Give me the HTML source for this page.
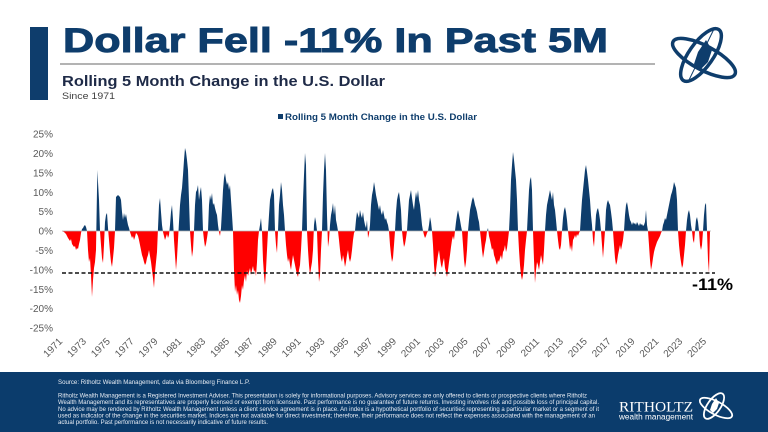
<!DOCTYPE html>
<html>
<head>
<meta charset="utf-8">
<style>
html,body{margin:0;padding:0;background:#fff;}
svg{display:block;}
text{font-family:"Liberation Sans",sans-serif;}
</style>
</head>
<body>
<svg width="768" height="432" viewBox="0 0 768 432" xmlns="http://www.w3.org/2000/svg">
<defs>
<clipPath id="up"><rect x="0" y="0" width="768" height="231"/></clipPath>
<clipPath id="dn"><rect x="0" y="231" width="768" height="200"/></clipPath>
<path id="series" d="M62,231 L64,232 66,234 68,238 70,241 71,239 72,244 74,247 75,246 76,250 77,248 78,249 79,244 80,240 81,233 82,229 83,228 84,226 85,225 86,227 87,231 88,250 89,262 90,258 91,275 92,297 93,280 94,268 95,262 96,250 97,190 97.5,170 98,182 99,200 100,231 101,245 102,258 103,263 104,245 105,222 106,215 107,213 108,228 109,240 110,252 111,262 112,267 113,258 114,248 115,231 116,197 117,196 118,195 119,196 120,197 121,200 122,212 123,220 124,213 125,218 126,214 127,220 128,225 129,228 130,232 131,235 132,238 133,236 134,240 135,237 136,233 137,234 138,236 139,240 140,245 141,250 142,255 143,258 144,262 145,265 146,263 147,258 148,255 149,250 150,256 151,262 152,270 153,278 154,288 155,272 156,262 157,252 158,228 159,205 160,198 161,212 162,225 163,232 164,236 165,240 166,237 167,234 168,238 169,235 170,225 171,212 172,205 173,220 174,240 175,255 176,270 177,258 178,240 179,222 180,205 181,195 182,188 183,175 184,160 185,148 186,152 187,160 188,170 189,200 190,231 191,245 192,257 193,250 194,231 195,205 196,192 197,190 198,185 199,200 200,192 201,187 202,200 203,231 204,240 205,247 206,244 207,238 208,231 209,205 210,195 211,200 212,193 213,205 214,203 215,208 216,212 217,215 218,225 219,232 220,236 221,228 222,210 223,190 224,178 225,173 226,180 227,185 228,182 229,190 230,185 231,200 232,215 233,231 234,270 235,292 236,285 237,295 238,290 239,300 240,303 241,296 242,285 243,290 244,280 245,275 246,282 247,270 248,276 249,272 250,268 251,275 252,270 253,266 254,272 255,270 256,276 257,262 258,240 259,231 260,225 261,218 262,231 263,260 264,275 265,285 266,270 267,250 268,231 269,215 270,200 271,195 272,190 273,188 274,195 275,231 276,245 277,253 278,231 279,205 280,195 281,182 282,190 283,205 284,215 285,231 286,245 287,255 288,262 289,258 290,265 291,270 292,262 293,255 294,260 295,265 296,270 297,274 298,277 299,270 300,265 301,250 302,231 303,200 304,175 305,153 306,165 307,231 308,250 309,265 310,275 311,268 312,262 313,250 314,225 315,217 316,222 317,231 318,260 319,282 320,275 321,250 322,231 323,195 324,170 325,153 326,170 327,215 328,247 329,240 330,225 331,215 332,210 333,203 334,215 335,205 336,220 337,225 338,231 339,240 340,250 341,258 342,262 343,255 344,260 345,267 346,262 347,255 348,250 349,258 350,262 351,258 352,250 353,240 354,233 355,231 356,220 357,212 358,215 359,218 360,210 361,215 362,218 363,212 364,220 365,225 366,228 367,220 368,238 369,234 370,225 371,205 372,195 373,190 374,182 375,188 376,195 377,200 378,205 379,210 380,205 381,212 382,215 383,210 384,215 385,220 386,218 387,222 388,225 389,231 390,245 391,255 392,262 393,258 394,245 395,231 396,212 397,200 398,195 399,192 400,200 401,210 402,231 403,240 404,247 405,244 406,238 407,231 408,215 409,200 410,195 411,190 412,198 413,205 414,210 415,200 416,192 417,198 418,190 419,200 420,205 421,215 422,225 423,231 424,235 425,238 426,236 427,233 428,231 429,225 430,217 431,222 432,231 433,245 434,265 435,277 436,270 437,262 438,255 439,250 440,258 441,265 442,268 443,262 444,258 445,268 446,272 447,277 448,270 449,262 450,255 451,247 452,240 453,236 454,240 455,231 456,222 457,215 458,210 459,215 460,220 461,226 462,231 463,245 464,260 465,268 466,262 467,250 468,231 469,220 470,210 471,205 472,200 473,197 474,200 475,205 476,208 477,212 478,218 479,222 480,231 481,240 482,250 483,258 484,252 485,245 486,240 487,231 488,228 489,236 490,240 491,245 492,250 493,248 494,255 495,258 496,262 497,265 498,260 499,262 500,258 501,255 502,260 503,252 504,250 505,245 506,252 507,248 508,240 509,231 510,210 511,180 512,165 513,152 514,160 515,170 516,180 517,200 518,231 519,250 520,265 521,275 522,280 523,275 524,265 525,250 526,240 527,231 528,210 529,190 530,180 531,177 532,190 533,231 534,260 535,283 536,270 537,262 538,265 539,270 540,262 541,255 542,260 543,265 544,250 545,231 546,215 547,205 548,200 549,195 550,190 551,195 552,200 553,192 554,205 555,210 556,220 557,231 558,240 559,248 560,250 561,245 562,231 563,218 564,210 565,207 566,212 567,220 568,231 569,240 570,250 571,245 572,252 573,240 574,238 575,235 576,238 577,234 578,236 579,233 580,231 581,215 582,200 583,190 584,180 585,170 586,165 587,172 588,180 589,190 590,200 591,215 592,225 593,240 594,247 595,231 596,215 597,210 598,208 599,213 600,220 601,231 602,245 603,258 604,245 605,231 606,210 607,203 608,200 609,203 610,205 611,212 612,220 613,231 614,245 615,258 616,265 617,262 618,255 619,250 620,245 621,250 622,245 623,240 624,231 625,215 626,205 627,202 628,208 629,215 630,220 631,222 632,225 633,222 634,224 635,223 636,225 637,222 638,224 639,226 640,223 641,225 642,224 643,226 644,225 645,222 646,210 647,225 648,231 649,245 650,260 651,270 652,265 653,258 654,252 655,248 656,245 657,242 658,240 659,238 660,236 661,233 662,231 663,225 664,222 665,218 666,220 667,215 668,210 669,205 670,200 671,195 672,192 673,188 674,182 675,185 676,188 677,200 678,231 679,245 680,255 681,262 682,268 683,265 684,255 685,245 686,231 687,220 688,213 689,210 690,215 691,225 692,231 693,240 694,243 695,231 696,220 697,217 698,222 699,231 700,245 701,250 702,245 703,231 704,215 705,205 706,203 707,231 708,260 709,273 710,231 Z"/>
</defs>

<!-- Header -->
<rect x="30" y="27" width="18" height="73" fill="#0e3d6c"/>
<text x="63" y="52" font-size="34" font-weight="bold" fill="#0e3d6c" stroke="#0e3d6c" stroke-width="0.9" textLength="545" lengthAdjust="spacingAndGlyphs">Dollar Fell -11% In Past 5M</text>
<line x1="60" y1="64" x2="655" y2="64" stroke="#9a9a9a" stroke-width="1.5"/>
<text x="62" y="86" font-size="15" font-weight="bold" fill="#1e2a47" textLength="323" lengthAdjust="spacingAndGlyphs">Rolling 5 Month Change in the U.S. Dollar</text>
<text x="62" y="99" font-size="9" fill="#404040" textLength="53" lengthAdjust="spacingAndGlyphs">Since 1971</text>

<!-- Header emblem -->
<g fill="none" stroke="#0e3d6c" stroke-width="3.5">
  <ellipse cx="701" cy="55" rx="31" ry="12" transform="rotate(-55 701 55)"/>
  <ellipse cx="704" cy="58" rx="35" ry="12" transform="rotate(28 704 58)"/>
</g>
<line x1="714" y1="29" x2="688" y2="82" stroke="#0e3d6c" stroke-width="1"/>
<path d="M706,40 L712,50 L708,62 L700,70 L694,64 L698,52 Z" fill="#0e3d6c"/>

<!-- Legend -->
<rect x="278" y="114" width="5" height="5" fill="#0e3d6c"/>
<text x="285" y="120" font-size="9.5" font-weight="bold" fill="#0e3d6c" textLength="192" lengthAdjust="spacingAndGlyphs">Rolling 5 Month Change in the U.S. Dollar</text>

<!-- Y axis labels -->
<g font-size="10" fill="#595959" text-anchor="end">
<text x="53" y="137.5">25%</text>
<text x="53" y="157">20%</text>
<text x="53" y="176.5">15%</text>
<text x="53" y="196">10%</text>
<text x="53" y="215">5%</text>
<text x="53" y="234.5">0%</text>
<text x="53" y="254">-5%</text>
<text x="53" y="273.5">-10%</text>
<text x="53" y="293">-15%</text>
<text x="53" y="312">-20%</text>
<text x="53" y="331.5">-25%</text>
</g>

<!-- Series -->
<use href="#series" fill="#0e3d6c" clip-path="url(#up)"/>
<use href="#series" fill="#ff0000" clip-path="url(#dn)"/>
<line x1="62" y1="231" x2="711" y2="231" stroke="#b0b0b0" stroke-width="0.8"/>

<!-- -11% dashed line -->
<line x1="62" y1="273" x2="715" y2="273" stroke="#111" stroke-width="1.4" stroke-dasharray="4,2.5"/>
<text x="692" y="290" font-size="17" font-weight="bold" fill="#000" textLength="41" lengthAdjust="spacingAndGlyphs">-11%</text>

<!-- X axis labels -->
<g font-size="10" fill="#595959" text-anchor="end">
<text transform="translate(63,342) rotate(-45)">1971</text>
<text transform="translate(86.85,342) rotate(-45)">1973</text>
<text transform="translate(110.7,342) rotate(-45)">1975</text>
<text transform="translate(134.55,342) rotate(-45)">1977</text>
<text transform="translate(158.4,342) rotate(-45)">1979</text>
<text transform="translate(182.25,342) rotate(-45)">1981</text>
<text transform="translate(206.1,342) rotate(-45)">1983</text>
<text transform="translate(229.95,342) rotate(-45)">1985</text>
<text transform="translate(253.8,342) rotate(-45)">1987</text>
<text transform="translate(277.65,342) rotate(-45)">1989</text>
<text transform="translate(301.5,342) rotate(-45)">1991</text>
<text transform="translate(325.35,342) rotate(-45)">1993</text>
<text transform="translate(349.2,342) rotate(-45)">1995</text>
<text transform="translate(373.05,342) rotate(-45)">1997</text>
<text transform="translate(396.9,342) rotate(-45)">1999</text>
<text transform="translate(420.75,342) rotate(-45)">2001</text>
<text transform="translate(444.6,342) rotate(-45)">2003</text>
<text transform="translate(468.45,342) rotate(-45)">2005</text>
<text transform="translate(492.3,342) rotate(-45)">2007</text>
<text transform="translate(516.15,342) rotate(-45)">2009</text>
<text transform="translate(540,342) rotate(-45)">2011</text>
<text transform="translate(563.85,342) rotate(-45)">2013</text>
<text transform="translate(587.7,342) rotate(-45)">2015</text>
<text transform="translate(611.55,342) rotate(-45)">2017</text>
<text transform="translate(635.4,342) rotate(-45)">2019</text>
<text transform="translate(659.25,342) rotate(-45)">2021</text>
<text transform="translate(683.1,342) rotate(-45)">2023</text>
<text transform="translate(706.95,342) rotate(-45)">2025</text>
</g>

<!-- Footer -->
<rect x="0" y="372" width="768" height="60" fill="#0b3c6c"/>
<g fill="#e9eef5" font-size="6">
<text x="58" y="384" textLength="192" lengthAdjust="spacingAndGlyphs">Source: Ritholtz Wealth Management, data via Bloomberg Finance L.P.</text>
<text x="58" y="397.4" textLength="529" lengthAdjust="spacingAndGlyphs">Ritholtz Wealth Management is a Registered Investment Adviser. This presentation is solely for informational purposes. Advisory services are only offered to clients or prospective clients where Ritholtz</text>
<text x="58" y="404.1" textLength="541" lengthAdjust="spacingAndGlyphs">Wealth Management and its representatives are properly licensed or exempt from licensure. Past performance is no guarantee of future returns. Investing involves risk and possible loss of principal capital.</text>
<text x="58" y="410.8" textLength="541" lengthAdjust="spacingAndGlyphs">No advice may be rendered by Ritholtz Wealth Management unless a client service agreement is in place. An index is a hypothetical portfolio of securities representing a particular market or a segment of it</text>
<text x="58" y="417.4" textLength="537" lengthAdjust="spacingAndGlyphs">used as indicator of the change in the securities market. Indices are not available for direct investment; therefore, their performance does not reflect the expenses associated with the management of an</text>
<text x="58" y="424.1" textLength="210" lengthAdjust="spacingAndGlyphs">actual portfolio. Past performance is not necessarily indicative of future results.</text>
</g>
<text x="619" y="411.5" font-size="14.5" fill="#ffffff" textLength="74" lengthAdjust="spacingAndGlyphs" style="font-family:'Liberation Serif',serif">RITHOLTZ</text>
<text x="619" y="419.5" font-size="8" fill="#ffffff" textLength="74" lengthAdjust="spacingAndGlyphs">wealth management</text>
<g fill="none" stroke="#ffffff" stroke-width="1.8">
  <ellipse cx="714" cy="406" rx="15" ry="6.5" transform="rotate(-55 714 406)"/>
  <ellipse cx="716" cy="408" rx="18" ry="6.5" transform="rotate(28 716 408)"/>
</g>
<path d="M716,398 L719,403 L717,409 L713,413 L710,410 L712,404 Z" fill="#ffffff"/>
</svg>
</body>
</html>
